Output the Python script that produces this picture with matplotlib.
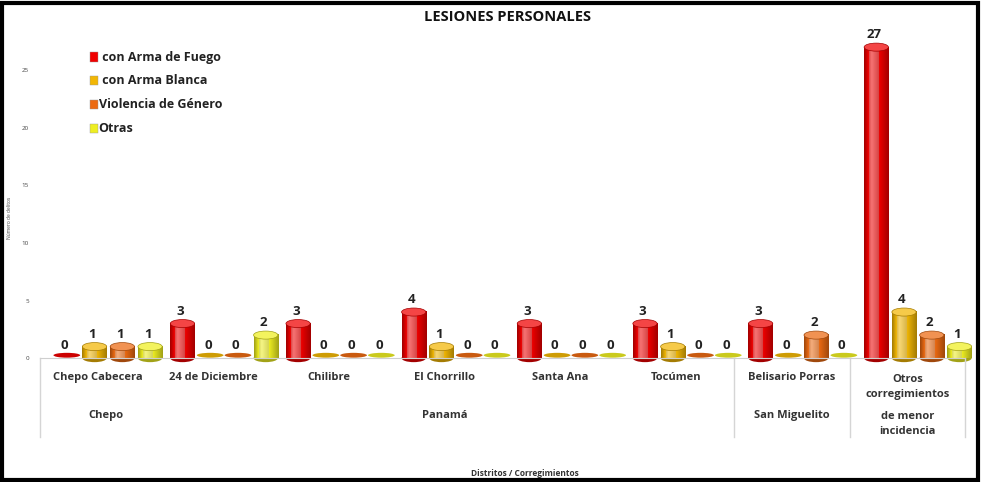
import numpy as np
import matplotlib
matplotlib.use("Agg")
import matplotlib.pyplot as plt
from matplotlib.patches import Ellipse, Rectangle
from matplotlib.colors import to_rgb
import matplotlib.transforms as mtransforms

plt.rcParams['font.family'] = ['Open Sans', 'DejaVu Sans']

# datos
corregimientos = ['Chepo Cabecera', '24 de Diciembre', 'Chilibre', 'El Chorrillo',
                  'Santa Ana', 'Tocúmen', 'Belisario Porras', 'Otros\ncorregimientos']
distritos = ['Chepo', 'Panamá', 'San Miguelito', 'de menor\nincidencia']
distrito_centro = [0, 3, 6, 7]
series = [' con Arma de Fuego', ' con Arma Blanca', 'Violencia de Género', 'Otras']
arma_fuego = [0, 3, 3, 4, 3, 3, 3, 27]
arma_blanca = [1, 0, 0, 1, 0, 1, 0, 4]
violencia_genero = [1, 0, 0, 0, 0, 0, 2, 2]
otras = [1, 2, 0, 0, 0, 0, 0, 1]
colores = ['#F00000', '#F2B705', '#EC6A12', '#EEEE22']

valores = [arma_fuego, arma_blanca, violencia_genero, otras]

fig = plt.figure(figsize=(9.81, 4.82), dpi=100)
ax = fig.add_axes([0.041, 0.257, 0.943, 0.693])

x = np.arange(len(corregimientos))
ancho = 0.21
paso = 0.24
desp = [-1.5, -0.5, 0.5, 1.5]
corrimiento = 0.09   # efecto 3D: las barras quedan algo a la derecha
cap = 0.7


def cilindro(xc, h, color):
    c = np.array(to_rgb(color))
    oscuro = c * 0.68
    claro = np.clip(c + (1 - c) * 0.45, 0, 1)
    # gradiente horizontal
    t = np.linspace(0, 1, 40)
    perfil = np.interp(t, [0, 0.3, 0.6, 1], [0, 1, 0.6, 0])
    grad = np.array([oscuro + (claro - oscuro) * p if p > 0.6 else oscuro + (c - oscuro) * (p / 0.6) for p in perfil])
    x0, x1 = xc - ancho / 2, xc + ancho / 2
    if h > 0:
        ax.imshow(grad[np.newaxis, :, :], extent=(x0, x1, 0, h), aspect='auto', zorder=2,
                  clip_on=False)
        ax.add_patch(Ellipse((xc, 0), ancho, cap, facecolor=oscuro, edgecolor='none',
                             zorder=1.9, clip_on=False))
        ax.add_patch(Ellipse((xc, h), ancho, cap, facecolor=claro * 0.6 + c * 0.4,
                             edgecolor=oscuro, lw=0.5, zorder=3, clip_on=False))
    else:
        ax.add_patch(Ellipse((xc, h + 0.25), ancho * 1.1, cap * 0.6, facecolor=c * 0.85,
                             edgecolor='none', zorder=3, clip_on=False))


for i, vals in enumerate(valores):
    for j, v in enumerate(vals):
        xc = x[j] + corrimiento + desp[i] * paso
        cilindro(xc, v, colores[i])
        ax.text(xc - 0.02, v + 0.5, str(v), ha='center', va='bottom', fontsize=9.5,
                fontweight='bold', color='#222222', zorder=4)

ax.set_xlim(-0.5, len(corregimientos) - 0.5)
ax.set_ylim(0, 29)
ax.set_yticks([0, 5, 10, 15, 20, 25])
ax.tick_params(axis='y', labelsize=4.5, length=0, colors='#444444', pad=8)
ax.set_xticks([])
for s in ['top', 'right', 'left']:
    ax.spines[s].set_visible(False)
ax.spines['bottom'].set_color('#cfcfcf')
ax.set_ylabel('Número de delitos', fontsize=3.5, color='#444444', labelpad=6)
ax.yaxis.set_label_coords(-0.031, 0.42)

tr = mtransforms.blended_transform_factory(ax.transData, ax.transAxes)
for j, nombre in enumerate(corregimientos):
    yy = -0.057 if '\n' not in nombre else -0.085
    ax.text(x[j], yy, nombre, transform=tr, ha='center', va='center', fontsize=8,
            fontweight='bold', color='#333333', linespacing=1.5)
for j, nombre in zip(distrito_centro, distritos):
    yy = -0.171 if '\n' not in nombre else -0.197
    ax.text(x[j] + (0.0 if j else 0.07), yy, nombre, transform=tr, ha='center', va='center',
            fontsize=8, fontweight='bold', color='#333333', linespacing=1.5)
for xl in [-0.5, 5.5, 6.5, 7.5]:
    ax.plot([xl, xl], [0, -0.237], transform=tr, color='#d5d5d5', lw=1, clip_on=False)

# leyenda
for k, (nom, col) in enumerate(zip(series, colores)):
    yl = 0.901 - k * 0.071
    ax.add_patch(Rectangle((0.054, yl - 0.013), 0.008, 0.027, transform=ax.transAxes,
                           facecolor=col, edgecolor='#999999', lw=0.3, clip_on=False))
    ax.text(0.063, yl, nom, transform=ax.transAxes, ha='left', va='center', fontsize=9,
            fontweight='bold', color='#222222')

fig.text(0.517, 0.965, 'LESIONES PERSONALES', ha='center', va='center', fontsize=10.5,
         fontweight='bold', color='#111111')
fig.text(0.535, 0.018, 'Distritos / Corregimientos', ha='center', va='center', fontsize=6,
         fontweight='bold', color='#333333')

# marco
fig.patches.append(Rectangle((0.002, 0.004), 0.995, 0.99, transform=fig.transFigure,
                             fill=False, edgecolor='black', lw=3))

fig.savefig('out.png', dpi=100)
